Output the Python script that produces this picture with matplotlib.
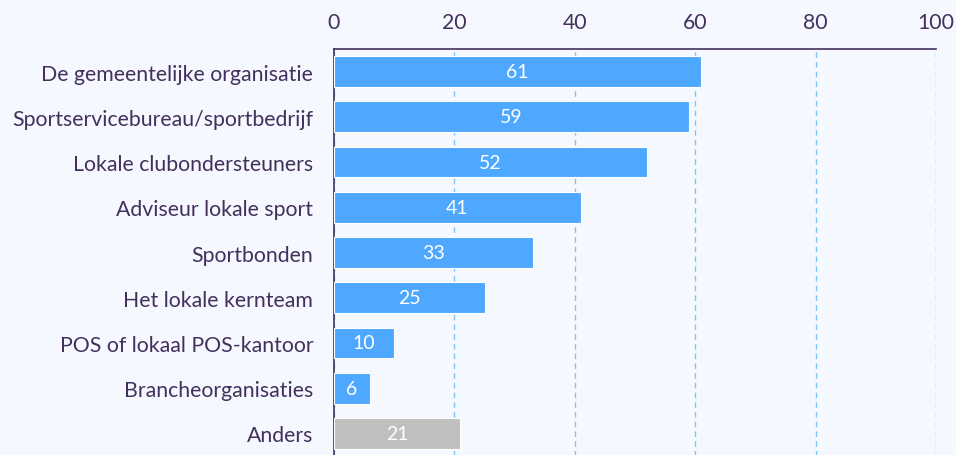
import matplotlib
matplotlib.use("Agg")
import matplotlib.pyplot as plt

categories = [
    "De gemeentelijke organisatie",
    "Sportservicebureau/sportbedrijf",
    "Lokale clubondersteuners",
    "Adviseur lokale sport",
    "Sportbonden",
    "Het lokale kernteam",
    "POS of lokaal POS-kantoor",
    "Brancheorganisaties",
    "Anders",
]
values = [61, 59, 52, 41, 33, 25, 10, 6, 21]
ticks = [0, 20, 40, 60, 80, 100]

blue = "#4fa8ff"
grey = "#bfbfbf"
text_col = "#43305c"
bg = "#f5f8fe"
colors = [blue] * 8 + [grey]

plt.rcParams["font.family"] = ["Lato", "DejaVu Sans"]

fig = plt.figure(figsize=(9.56, 4.56), dpi=100, facecolor=bg)
ax = fig.add_axes([334 / 956, 1 - 457 / 456, 602 / 956, 407 / 456])
ax.set_facecolor(bg)

y = list(range(len(categories)))
bars = ax.barh(y, values, height=0.68, color=colors, edgecolor="white", linewidth=0.8, zorder=3)
for b, v in zip(bars, values):
    ax.text(b.get_width() / 2, b.get_y() + b.get_height() / 2, str(v),
            ha="center", va="center", color="white", fontsize=14, zorder=4)

ax.set_xlim(0, 100)
ax.set_ylim(len(categories) - 0.5, -0.5)
ax.set_yticks(y)
ax.set_yticklabels(categories, fontsize=15.3, color=text_col)
ax.set_xticks(ticks)
ax.set_xticklabels([str(t) for t in ticks], fontsize=15.3, color=text_col)
ax.xaxis.tick_top()
ax.tick_params(axis="y", length=0, pad=15)
ax.tick_params(axis="x", length=0, pad=12)

ax.grid(axis="x", color="#7cc6f5", linestyle=(0, (4, 3)), linewidth=1, zorder=1)
for s in ["right", "bottom"]:
    ax.spines[s].set_visible(False)
ax.spines["top"].set_color(text_col)
ax.spines["left"].set_color(text_col)
ax.spines["top"].set_linewidth(1.2)
ax.spines["left"].set_linewidth(1.2)

fig.savefig("out.png", dpi=100, facecolor=bg)
